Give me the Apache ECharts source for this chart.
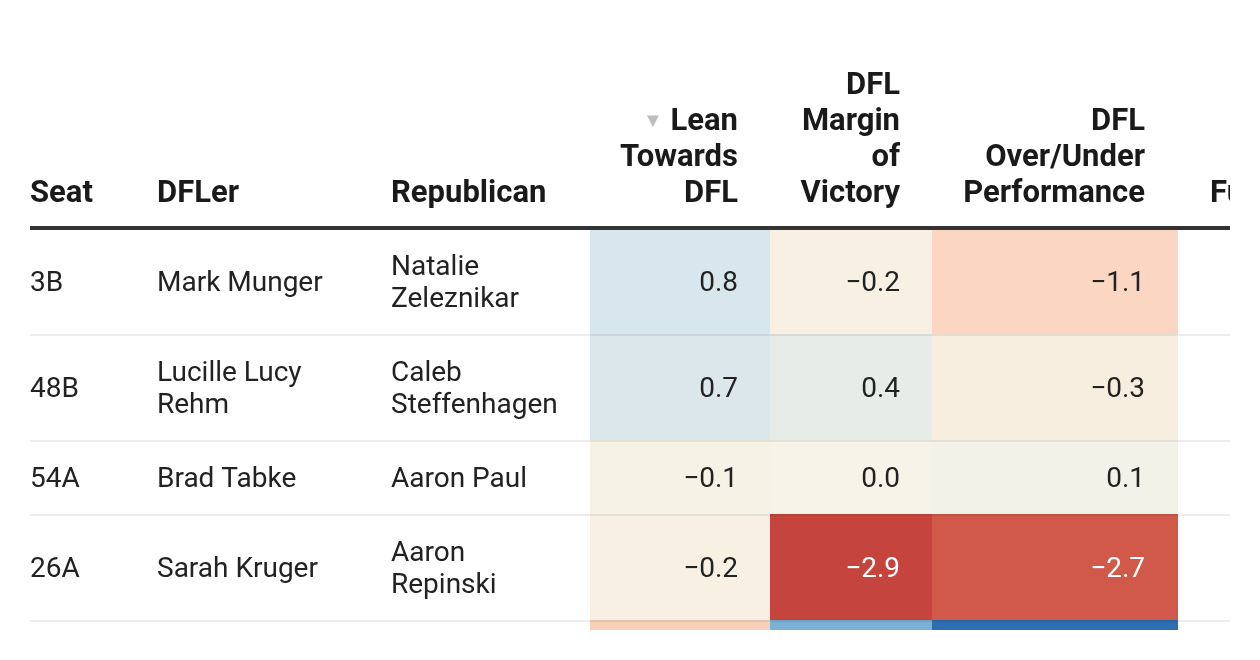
<!DOCTYPE html>
<html>
<head>
<meta charset="utf-8">
<script src="https://cdn.jsdelivr.net/npm/echarts@6/dist/echarts.min.js"></script>
<style>
html,body{margin:0;padding:0;background:#fff;}
#main{width:1260px;height:660px;}
</style>
</head>
<body>
<div id="main"></div>
<script>
// ---------------- DATA ----------------
const columnTitles = ['Seat', 'DFLer', 'Republican', 'Lean\nTowards\nDFL', 'DFL\nMargin\nof\nVictory', 'DFL\nOver/Under\nPerformance', 'Fundraising'];
const sortedColumn = 3;
const seats = ['3B', '48B', '54A', '26A', ''];
const dflers = ['Mark Munger', 'Lucille Lucy\nRehm', 'Brad Tabke', 'Sarah Kruger', ''];
const republicans = ['Natalie\nZeleznikar', 'Caleb\nSteffenhagen', 'Aaron Paul', 'Aaron\nRepinski', ''];
const leanTowardsDFL = [0.8, 0.7, -0.1, -0.2, -1.2];
const dflMarginOfVictory = [-0.2, 0.4, 0.0, -2.9, 2.1];
const dflOverUnder = [-1.1, -0.3, 0.1, -2.7, 2.9];

// ---------------- LAYOUT / STYLE ----------------
const FONT_FAMILY = 'Roboto, "Noto Sans", sans-serif';
const BODY_SIZE = 28, HEAD_SIZE = 31;
const LINE_H = 32, HEAD_LH = 36, ROW_PAD = 21, TEXT_SHIFT = 3;
const TABLE_L = 30, TABLE_R = 1230, VIEW_B = 630;
const RULE_Y = 228, HEADER_BOTTOM = 212;
const textColX = [30, 157, 391];
const numCols = [
  {x0: 590, x1: 770, tx: 738},
  {x0: 770, x1: 932, tx: 900},
  {x0: 932, x1: 1178, tx: 1145}
];
const headerPos = [
  {x: 30, align: 'left'}, {x: 157, align: 'left'}, {x: 391, align: 'left'},
  {x: 738, align: 'right'}, {x: 900, align: 'right'}, {x: 1145, align: 'right'},
  {x: 1210, align: 'left'}
];
const TEXT_COLOR = '#222222';
const HEAD_COLOR = '#1a1a1a';

// row boundaries derived from the number of text lines in each row
const nLines = s => s ? s.split('\n').length : 1;
const rowTops = [RULE_Y];
seats.forEach((s, i) => {
  const lines = Math.max(nLines(s), nLines(dflers[i]), nLines(republicans[i]));
  rowTops.push(rowTops[i] + 2 * ROW_PAD + LINE_H * lines);
});

const fmt = v => (v < 0 ? '\u2212' : '') + Math.abs(v).toFixed(1);
function isDark(c) {
  const p = echarts.color.parse(c) || [255, 255, 255];
  return (0.299 * p[0] + 0.587 * p[1] + 0.114 * p[2]) / 255 < 0.55;
}
function clipOf(params) {
  const cs = params.coordSys;
  return {type: 'rect', shape: {x: cs.x, y: cs.y, width: cs.width, height: cs.height}};
}
function txt(x, y, text, opts) {
  return {
    type: 'text',
    style: Object.assign({
      text: text, x: x, y: y,
      fontFamily: FONT_FAMILY, fontSize: BODY_SIZE, fontWeight: 'normal',
      fill: TEXT_COLOR, lineHeight: LINE_H,
      align: 'left', textAlign: 'left',
      verticalAlign: 'middle', textVerticalAlign: 'middle'
    }, opts || {})
  };
}

const numericColumns = [leanTowardsDFL, dflMarginOfVictory, dflOverUnder];

const numericSeries = numericColumns.map((vals, c) => ({
  type: 'custom',
  z: 1,
  clip: true,
  data: vals.map((v, i) => [v, i]),
  renderItem: function (params, api) {
    const v = api.value(0), i = api.value(1);
    const col = numCols[c];
    const p0 = api.coord([col.x0, rowTops[i]]);
    const p1 = api.coord([col.x1, rowTops[i + 1]]);
    const fill = api.visual('color');
    const cy = (p0[1] + p1[1]) / 2 + TEXT_SHIFT;
    const tp = api.coord([col.tx, 0]);
    return {
      type: 'group',
      clipPath: clipOf(params),
      children: [
        {type: 'rect', shape: {x: p0[0], y: p0[1], width: p1[0] - p0[0], height: p1[1] - p0[1]}, style: {fill: fill}},
        txt(tp[0], cy, fmt(v), {align: 'right', textAlign: 'right', fill: isDark(fill) ? '#ffffff' : TEXT_COLOR})
      ]
    };
  }
}));

const textSeries = {
  type: 'custom',
  z: 3,
  clip: true,
  data: seats.map((s, i) => [0, i]),
  renderItem: function (params, api) {
    const i = api.value(1);
    const top = api.coord([TABLE_L, rowTops[i]]);
    const bot = api.coord([TABLE_R, rowTops[i + 1]]);
    const cy = (top[1] + bot[1]) / 2 + TEXT_SHIFT;
    const cells = [seats[i], dflers[i], republicans[i]];
    const children = cells.map((t, k) => txt(api.coord([textColX[k], 0])[0], cy, t));
    // separator at bottom of row
    children.push({type: 'rect', shape: {x: top[0], y: bot[1], width: bot[0] - top[0], height: 2}, style: {fill: 'rgba(0,0,0,0.07)'}});
    return {type: 'group', clipPath: clipOf(params), children: children};
  }
};

const headerSeries = {
  type: 'custom',
  z: 4,
  clip: true,
  data: columnTitles.map((t, i) => [0, i]),
  renderItem: function (params, api) {
    const i = api.value(1);
    const hp = headerPos[i];
    const p = api.coord([hp.x, HEADER_BOTTOM]);
    let text = columnTitles[i];
    if (i === sortedColumn) text = '{tri|\u25BC} ' + text;
    const children = [
      txt(p[0], p[1], text, {
        align: hp.align, textAlign: hp.align,
        verticalAlign: 'bottom', textVerticalAlign: 'bottom',
        fontWeight: 'bold', fontSize: HEAD_SIZE, lineHeight: HEAD_LH, fill: HEAD_COLOR,
        rich: {tri: {fontSize: 20, fill: '#bdbdbd', fontFamily: FONT_FAMILY, lineHeight: HEAD_LH}}
      })
    ];
    if (i === 0) {
      const a = api.coord([TABLE_L, RULE_Y]);
      const b = api.coord([TABLE_R, RULE_Y]);
      children.push({type: 'rect', shape: {x: a[0], y: a[1] - 2, width: b[0] - a[0], height: 4}, style: {fill: '#333333'}});
    }
    return {type: 'group', clipPath: clipOf(params), children: children};
  }
};

const chart = echarts.init(document.getElementById('main'));
chart.setOption({
  animation: false,
  backgroundColor: '#ffffff',
  grid: {left: TABLE_L, right: 1260 - TABLE_R, top: 0, bottom: 660 - VIEW_B, show: false},
  xAxis: {type: 'value', min: TABLE_L, max: TABLE_R, show: false},
  yAxis: {type: 'value', min: 0, max: VIEW_B, inverse: true, show: false},
  visualMap: {
    type: 'continuous', show: false, seriesIndex: [0, 1, 2], dimension: 0,
    min: -3, max: 3,
    inRange: {color: ['#c03b39', '#da6d53', '#ee9a78', '#f8bea0', '#fcdcca', '#f9eada', '#f6f4e9',
                      '#e4eae9', '#d0e3f0', '#b0d2e8', '#86b9d8', '#4a8fc4', '#2566ac']}
  },
  series: numericSeries.concat([textSeries, headerSeries])
});
</script>
</body>
</html>
